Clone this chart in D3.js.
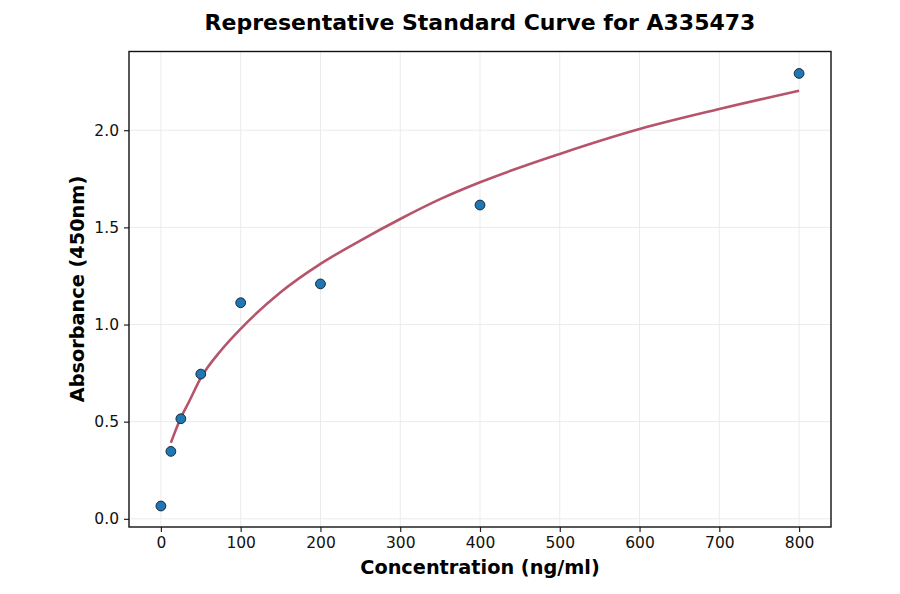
<!DOCTYPE html>
<html>
<head>
<meta charset="utf-8">
<script src="https://cdn.jsdelivr.net/npm/d3@7"></script>
<style>
  body { margin: 0; background: #fff; }
  text { font-family: "DejaVu Sans", sans-serif; }
</style>
</head>
<body>
<script>
// measured standards
var conc = [0, 12.5, 25, 50, 100, 200, 400, 800]
var absorb = [0.066, 0.347, 0.515, 0.745, 1.112, 1.209, 1.615, 2.292]

// fitted curve
var fitX = [12.5, 25, 36, 50, 75, 100, 150, 200, 250, 300, 350, 400, 500, 600, 700, 800]
var fitY = [0.392, 0.52, 0.609, 0.725, 0.865, 0.978, 1.166, 1.312, 1.432, 1.543, 1.645, 1.732, 1.878, 2.006, 2.109, 2.203]

var xTicks = [0, 100, 200, 300, 400, 500, 600, 700, 800]
var yTicks = [0, 0.5, 1.0, 1.5, 2.0]

var width = 900,
	height = 594,
	margin = {top: 51.5, left: 129, right: 69, bottom: 67}

var svg = d3.select('body')
	.append('svg')
	.attr('width', width)
	.attr('height', height)

var x = d3.scaleLinear()
	.domain([-40, 840])
	.range([margin.left, width - margin.right])

var y = d3.scaleLinear()
	.domain([-0.042, 2.405])
	.range([height - margin.bottom, margin.top])

// grid
svg.append('g')
	.selectAll('line')
	.data(xTicks).enter()
	.append('line')
	.attr('x1', d => x(d)).attr('x2', d => x(d))
	.attr('y1', y.range()[0]).attr('y2', y.range()[1])
	.attr('stroke', '#ebebeb').attr('stroke-width', 1)

svg.append('g')
	.selectAll('line')
	.data(yTicks).enter()
	.append('line')
	.attr('y1', d => y(d)).attr('y2', d => y(d))
	.attr('x1', x.range()[0]).attr('x2', x.range()[1])
	.attr('stroke', '#ebebeb').attr('stroke-width', 1)

// axes
var ejeX = d3.axisBottom(x).tickValues(xTicks).tickSize(5).tickPadding(5).tickFormat(d3.format('d'))
var ejeY = d3.axisLeft(y).tickValues(yTicks).tickSize(5).tickPadding(5).tickFormat(d3.format('.1f'))

var gx = svg.append('g')
	.attr('transform', 'translate(0,' + y.range()[0] + ')')
	.call(ejeX)
var gy = svg.append('g')
	.attr('transform', 'translate(' + x.range()[0] + ',0)')
	.call(ejeY)

;[gx, gy].forEach(g => {
	g.select('.domain').remove()
	g.selectAll('line').attr('stroke', '#222').attr('stroke-width', 1.2)
	g.selectAll('text').attr('font-size', 15.5).attr('fill', '#111')
		.style('font-family', '"DejaVu Sans", sans-serif')
})

// frame
svg.append('rect')
	.attr('x', x.range()[0]).attr('y', y.range()[1])
	.attr('width', x.range()[1] - x.range()[0])
	.attr('height', y.range()[0] - y.range()[1])
	.attr('fill', 'none').attr('stroke', '#111').attr('stroke-width', 1.4)

// fit curve
var line = d3.line()
	.x((d, i) => x(fitX[i]))
	.y(d => y(d))
	.curve(d3.curveMonotoneX)

svg.append('path')
	.datum(fitY)
	.attr('d', line)
	.attr('fill', 'none')
	.attr('stroke', '#b5546a')
	.attr('stroke-width', 2.6)

// points
svg.append('g')
	.selectAll('circle')
	.data(absorb).enter()
	.append('circle')
	.attr('cx', (d, i) => x(conc[i]))
	.attr('cy', d => y(d))
	.attr('r', 4.9)
	.attr('fill', '#1f77b4')
	.attr('stroke', '#1a2a3a')
	.attr('stroke-width', 1)

// labels
svg.append('text')
	.attr('x', 480).attr('y', 30)
	.attr('text-anchor', 'middle')
	.attr('font-size', 22).attr('font-weight', 'bold')
	.text('Representative Standard Curve for A335473')

svg.append('text')
	.attr('x', 480).attr('y', 574)
	.attr('text-anchor', 'middle')
	.attr('font-size', 19.3).attr('font-weight', 'bold')
	.text('Concentration (ng/ml)')

svg.append('text')
	.attr('transform', 'translate(84,289) rotate(-90)')
	.attr('text-anchor', 'middle')
	.attr('font-size', 19.3).attr('font-weight', 'bold')
	.text('Absorbance (450nm)')
</script>
</body>
</html>
